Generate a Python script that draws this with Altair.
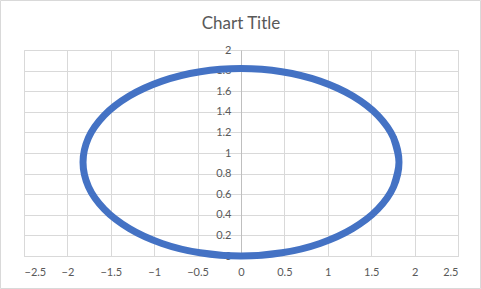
import altair as alt
import pandas as pd

xs = [1.758, 1.82, 1.758, 1.576, 1.287, 0.91, 0.471, 0.0, -0.471, -0.91, -1.287, -1.576, -1.758,
      -1.82, -1.758, -1.576, -1.287, -0.91, -0.471, 0.0, 0.471, 0.91, 1.287, 1.576, 1.758, 1.82, 1.758]
ys = [0.674, 0.91, 1.146, 1.365, 1.553, 1.698, 1.789, 1.82, 1.789, 1.698, 1.553, 1.365, 1.146,
      0.91, 0.674, 0.455, 0.267, 0.122, 0.031, 0.0, 0.031, 0.122, 0.267, 0.455, 0.674, 0.91, 1.146]
x_ticks = [-2.5, -2, -1.5, -1, -0.5, 0, 0.5, 1, 1.5, 2, 2.5]
y_ticks = [0, 0.2, 0.4, 0.6, 0.8, 1, 1.2, 1.4, 1.6, 1.8, 2]

df = pd.DataFrame({"x": xs, "y": ys, "i": list(range(len(xs)))})

W, H = 434, 206
PL, PT, PR, PB = 24, 50, 23, 33

FONT = "Lato"
LABEL = "#595959"
GRID = "#D9D9D9"

line = alt.Chart(df).mark_line(
    color="#4472C4", strokeWidth=7, interpolate="catmull-rom"
).encode(
    x=alt.X("x:Q", scale=alt.Scale(domain=[-2.5, 2.5], nice=False, zero=False),
            axis=alt.Axis(values=x_ticks, title=None, ticks=False, grid=True,
                          gridColor=GRID, domainColor=GRID, labelColor=LABEL,
                          labelFont=FONT, labelFontSize=11, labelPadding=10,
                          labelExpr="datum.value == 0 ? '0' : format(datum.value, '.2~f')")),
    y=alt.Y("y:Q", scale=alt.Scale(domain=[0, 2], nice=False),
            axis=alt.Axis(values=y_ticks, title=None, ticks=False, grid=True,
                          gridColor=GRID, domainColor="#BFBFBF", labelColor=LABEL,
                          labelFont=FONT, labelFontSize=11, labelPadding=10,
                          offset=-217, format=".2~f")),
    order="i:Q",
)

border = alt.Chart(pd.DataFrame({"a": [0]})).mark_rect(
    fill=None, stroke=GRID, strokeWidth=1
).encode(
    x=alt.value(-PL + 0.5), x2=alt.value(W + PR - 0.5),
    y=alt.value(-PT + 0.5), y2=alt.value(H + PB - 0.5),
)

chart = alt.layer(border, line).properties(
    width=W, height=H,
    title=alt.TitleParams("Chart Title", font=FONT, fontSize=17, fontWeight="normal",
                          color=LABEL, anchor="middle", frame="group",
                          baseline="alphabetic", offset=-46),
    autosize=alt.AutoSizeParams(type="none"),
    padding={"left": PL, "top": PT, "right": PR, "bottom": PB},
).configure_view(stroke=None).configure(background="white")

chart.save("out.html", embed_options={"renderer": "svg", "actions": False})
